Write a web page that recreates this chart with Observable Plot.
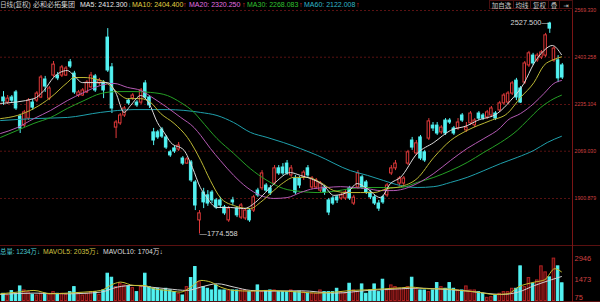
<!DOCTYPE html>
<html><head><meta charset="utf-8">
<script src="https://cdn.jsdelivr.net/npm/d3@7"></script>
<script src="https://cdn.jsdelivr.net/npm/@observablehq/plot@0.6"></script>
<style>
html,body{margin:0;padding:0;background:#000;}
#wrap{position:relative;width:600px;height:302px;background:#000;overflow:hidden;font-family:"Liberation Sans","Noto Sans CJK SC",sans-serif;}
.abs{position:absolute;white-space:nowrap;}
.h{top:0;font-size:7px;line-height:10px;}
.v{top:247px;font-size:6.8px;line-height:10px;}
.btn{position:absolute;top:0;height:9px;border:1px solid #4a1010;box-sizing:border-box;color:#c8c8c8;font-size:6.5px;line-height:8px;text-align:center;font-family:"Noto Sans CJK SC","DejaVu Sans",sans-serif;}
.ln{position:absolute;}
#main,#vol{position:absolute;left:0;}
#main{top:0}
#vol{top:246px}
</style></head>
<body>
<div id="wrap">
  <div id="main"></div>
  <div id="vol"></div>
  <div class="ln" style="left:0;top:245px;width:600px;height:1px;background:#5a1010"></div>
  <div class="ln" style="left:0;top:301px;width:600px;height:1px;background:#5a1010"></div>
  <div class="ln" style="left:572px;top:9px;width:1px;height:293px;background:#7a1515"></div>

  <span class="abs h" style="left:0px;color:#d0d0d0;font-size:6.6px">日线(复权)</span>
  <span class="abs h" style="left:33px;color:#d0d0d0">必和必拓集团</span>
  <span class="abs h" style="left:80px;color:#e8e8e8">MA5: 2412.300</span>
  <span class="abs h" style="left:128px;color:#2ab5b5">↓</span>
  <span class="abs h" style="left:132px;color:#e0d040">MA10: 2404.400</span>
  <span class="abs h" style="left:183px;color:#e03030">↑</span>
  <span class="abs h" style="left:189px;color:#e070e0">MA20: 2320.250</span>
  <span class="abs h" style="left:242px;color:#e03030">↑</span>
  <span class="abs h" style="left:247px;color:#30c030">MA30: 2268.083</span>
  <span class="abs h" style="left:299px;color:#e03030">↑</span>
  <span class="abs h" style="left:304px;color:#30b8c8">MA60: 2122.008</span>
  <span class="abs h" style="left:356px;color:#e03030">↑</span>

  <div class="btn" style="left:489px;width:25px">加自选</div>
  <div class="btn" style="left:513px;width:18px">均线</div>
  <div class="btn" style="left:530px;width:19px">复权</div>
  <div class="btn" style="left:548px;width:12px">叠</div>
  <div class="btn" style="left:559px;width:14px">⇥</div>

  <span class="abs v" style="left:0px;color:#4cc8d0;font-size:6.4px">总量: 1234万↓</span>
  <span class="abs v" style="left:43px;color:#d0c040">MAVOL5: 2035万↓</span>
  <span class="abs v" style="left:103px;color:#dddddd">MAVOL10: 1704万↓</span>
</div>
<script>
// ---- candle data (price) ----
const open = [2260,2242,2260,2278,2192,2160,2185,2242,2249,2260,
2324,2256,2338,2338,2338,2338,2385,2345,2267,2267,
2278,2296,2335,2310,2313,2473,2367,2153,2168,2196,
2249,2257,2242,2242,2310,2260,2136,2136,2146,2118,
2065,2079,2075,2043,2025,2029,1958,1823,1922,1912,
1922,1894,1894,1869,1823,1894,1865,1833,1830,1858,
1858,1929,1937,1947,1937,1954,2008,2011,2025,1983,
1972,1972,1976,2008,1940,1940,1929,1940,1894,1901,
1905,1901,1901,1937,1883,1940,1976,1958,1922,1905,
1883,1905,1912,1990,2008,1954,1954,2025,2107,2061,
2118,2065,2114,2160,2160,2136,2178,2178,2150,2150,
2196,2143,2168,2161,2203,2196,2189,2196,2203,2214,
2239,2242,2274,2320,2292,2313,2374,2409,2392,2402,
2409,2523,2392,2392,2374];
const close = [2246,2256,2249,2221,2150,2207,2249,2224,2274,2331,
2299,2292,2377,2328,2367,2363,2370,2278,2278,2285,
2313,2338,2285,2320,2285,2356,2221,2171,2196,2221,
2239,2267,2232,2285,2260,2232,2107,2118,2121,2082,
2054,2068,2089,2025,2040,1965,1876,1848,1887,1883,
1894,1869,1876,1848,1865,1887,1841,1876,1858,1823,
1905,1912,1990,1929,1919,2008,1990,1990,1990,2008,
1922,1947,1993,1983,1972,1965,1954,1922,1851,1883,
1894,1912,1922,1901,1904,1990,1940,1922,1905,1883,
1865,1887,1947,2008,2025,1972,1972,2065,2082,2097,
2043,2036,2175,2150,2132,2153,2132,2171,2132,2171,
2178,2153,2203,2178,2185,2185,2207,2221,2185,2239,
2267,2274,2310,2260,2242,2381,2417,2381,2409,2420,
2481,2505,2434,2328,2331];
const high = [2281,2267,2267,2285,2200,2214,2256,2253,2281,2338,
2335,2299,2388,2349,2374,2370,2395,2353,2285,2292,
2320,2349,2342,2328,2320,2505,2381,2178,2203,2228,
2256,2274,2249,2292,2320,2267,2150,2143,2153,2125,
2072,2086,2100,2050,2047,2036,1965,1858,1937,1929,
1929,1901,1905,1876,1872,1905,1872,1883,1865,1865,
1912,1937,2000,1954,1947,2018,2018,2025,2036,2018,
1983,1979,2000,2018,1979,1972,1961,1947,1901,1908,
1912,1919,1929,1944,1912,2000,1983,1965,1929,1912,
1894,1912,1954,2018,2036,1979,1979,2072,2118,2107,
2125,2072,2185,2171,2171,2160,2185,2185,2157,2185,
2203,2171,2210,2185,2210,2203,2214,2228,2210,2246,
2274,2281,2317,2328,2299,2388,2424,2417,2417,2427,
2488,2527.5,2441,2409,2381];
const low = [2232,2235,2242,2214,2132,2153,2178,2214,2242,2256,
2278,2249,2331,2320,2331,2335,2363,2271,2260,2264,
2274,2292,2278,2303,2256,2349,2203,2114,2161,2189,
2232,2249,2225,2235,2253,2221,2089,2111,2114,2075,
2047,2061,2068,2018,2022,1958,1858,1774.558,1865,1873,
1883,1862,1865,1841,1816,1876,1833,1826,1823,1816,
1851,1905,1929,1922,1912,1947,1983,1983,1983,1976,
1915,1936,1965,1976,1933,1933,1922,1912,1840,1876,
1883,1894,1894,1894,1876,1933,1933,1915,1897,1876,
1855,1880,1905,1983,2000,1947,1947,2018,2072,2054,
2036,2029,2107,2139,2125,2129,2125,2164,2125,2143,
2171,2136,2161,2153,2178,2178,2182,2189,2178,2207,
2232,2235,2267,2249,2239,2306,2367,2374,2385,2395,
2402,2488,2385,2313,2324];
// volume (万)
const volume = [502,385,689,502,1016,736,619,432,385,502,
502,432,619,502,502,432,619,969,502,385,
502,619,619,432,736,1904,1623,969,1203,1086,
1016,900,619,969,1904,969,852,852,736,852,
736,619,502,385,969,1600,2371,1320,969,852,
736,1086,736,736,736,736,736,736,736,619,
700,1086,619,700,736,736,619,619,619,736,
619,650,600,502,502,502,736,619,619,619,
852,619,502,1203,736,619,1156,502,736,1156,
619,1484,736,1086,969,852,852,969,1623,852,
736,736,619,736,1250,969,852,1250,852,736,
736,1016,736,736,619,502,221,268,385,502,
619,619,852,852,2418,969,1600,1203,1437,2418,
1998,1650,2958,2418,1234];
// moving averages (position in candle index, value)
const ma5X = [-0.7,7.3,9.7,12,15.3,16.9,18.9,21.7,24.9,26.9,28.9,30.5,32.9,34.9,36.9,38.5,40.1,43.3,45.3,47.2,48.4,51.2,54.4,57.6,60.4,62.8,65.2,68.8,71.2,73.6,76.8,79.2,82.4,84.8,87.2,90.4,92.8,95.2,99.2,103.2,107.2,111.2,113.6,118.4,121.6,124.8,127.2,129.6,131.6,133.8];
const ma5Y = [2239,2256,2285,2331,2356,2338,2313,2313,2313,2278,2207,2232,2267,2239,2171,2136,2100,2072,2011,1940,1912,1869,1869,1865,1887,1922,1958,1993,1983,1972,1947,1912,1922,1954,1936,1904,1954,1976,2061,2100,2143,2160,2178,2203,2249,2310,2381,2427,2445,2412.3];
const ma10X = [-0.7,3.3,7.3,11.3,15.3,16.9,19.3,22.5,24.9,27.3,29.7,32.9,35.3,37.7,40.9,44.1,47.3,49.6,52,55.2,59.2,61.6,64.8,67.2,69.6,72.8,76,79.2,82.4,85.6,88.8,92,95.2,99.2,103.2,107.2,111.2,116.8,120.8,124,127.2,129.6,132,133.8];
const ma10Y = [2185,2196,2221,2260,2313,2331,2331,2324,2310,2278,2256,2256,2242,2203,2168,2118,2036,1965,1904,1876,1865,1887,1929,1958,1976,1976,1958,1929,1922,1922,1922,1936,1943,1972,2047,2107,2143,2178,2203,2260,2313,2374,2395,2404.4];
const ma20X = [-0.7,3.3,7.3,11.3,15.3,19.3,23.3,26.5,29.7,32.9,36.1,39.3,42.5,45.7,47.3,49.6,52,55.2,58.4,61.6,64.8,68,71.2,74.4,77.6,80.8,84,87.2,90.4,93.6,95.2,99.2,103.2,107.2,111.2,115.2,119.2,120.8,124,127.2,129.6,132,133.8];
const ma20Y = [2132,2153,2185,2214,2249,2278,2303,2310,2296,2285,2256,2224,2189,2153,2125,2079,2036,1983,1940,1912,1901,1904,1922,1936,1940,1943,1940,1936,1929,1929,1932,1954,1990,2036,2079,2114,2153,2178,2203,2239,2274,2310,2320.25];
const ma30X = [-0.7,3.3,7.3,11.3,15.3,19.3,23.3,27.3,31.3,35.3,39.3,42.5,45.7,47.3,51.2,55.2,59.2,63.2,67.2,71.2,75.2,79.2,83.2,87.2,91.2,95.2,99.2,103.2,107.2,111.2,115.2,119.2,123.2,125.6,128.8,132,133.8];
const ma30Y = [2118,2143,2168,2189,2221,2249,2274,2281,2281,2278,2267,2242,2207,2180,2114,2061,2007,1965,1936,1926,1922,1926,1936,1940,1940,1940,1958,1976,2000,2029,2065,2100,2143,2178,2224,2256,2268.08];
const ma60X = [-0.7,7.3,15.3,23.3,31.3,39.3,47.2,51.2,55.2,59.2,63.2,67.1,75.3,83.2,87.3,91.1,95.2,99.2,103.2,107.2,111.2,115.2,119.2,123.2,127.2,130.4,133.8];
const ma60Y = [2178,2185,2189,2207,2217,2217,2207,2196,2171,2136,2118,2100,2054,2000,1983,1965,1947,1940,1943,1958,1976,2000,2025,2047,2072,2100,2122.008];
const mavol5X = [-0.7,3.3,7.3,11.3,15.3,19.3,23.3,26.5,28.1,31.3,33.7,36.1,39.3,42.5,44.9,47.3,49.7,52.1,55.3,59.3,63.3,67.3,71.3,75.4,79.4,83.4,87.4,91.4,95.4,97.8,101.8,105.8,109.8,113.8,117.8,121,123.4,127.4,129.8,132.2,133.8];
const mavol5Y = [502,619,736,502,550,619,736,1203,1320,1086,1086,852,736,619,969,1437,1320,969,736,689,736,689,619,550,619,736,782,852,922,969,852,852,736,619,455,502,969,1320,1484,2254,2035];
const mavol10X = [-0.7,7.3,15.3,23.3,27.3,31.3,35.3,39.3,44.1,47.3,51.3,55.3,59.3,63.3,71.4,79.4,87.4,95.4,99.4,103.4,107.4,111.4,115.4,119.4,123.4,127.4,131.4,133.8];
const mavol10Y = [455,550,502,619,969,1086,969,852,736,969,1203,969,736,689,712,550,736,852,899,852,782,689,550,455,619,1086,1484,1704];
// axis tick labels
const priceTicks = [2569.330, 2403.258, 2235.104, 2069.030, 1900.879];
const volTicks = [2946, 1473];
const volLowTick = [75];
// extremes annotated
const maxIdx = 131, maxVal = 2527.5, minIdx = 47, minVal = 1774.558;

const RED = "#e23a3a", CYAN = "#52f2f2", AXIS = "#d04040";
const candles = open.map((o, i) => ({i, o, h: high[i], l: low[i], c: close[i], up: close[i] >= o}));
const ups = candles.filter(d => d.up), downs = candles.filter(d => !d.up);
const pts = (X, Y) => X.map((x, k) => ({x, y: Y[k]}));
const xDom = [-0.72, 136.45];
const bw = 0.3;

const main = Plot.plot({
  width: 600, height: 246,
  marginTop: 0, marginBottom: 0, marginLeft: 0, marginRight: 28,
  x: {domain: xDom, axis: null},
  y: {domain: [1730.2, 2604.9], axis: null},
  style: {background: "transparent", overflow: "visible"},
  marks: [
    Plot.ruleY(priceTicks, {stroke: "#5a1212", strokeDasharray: "2,2"}),
    Plot.ruleX(ups, {x: "i", y1: "l", y2: "h", stroke: RED}),
    Plot.ruleX(downs, {x: "i", y1: "l", y2: "h", stroke: CYAN}),
    Plot.rect(ups, {x1: d => d.i - bw, x2: d => d.i + bw, y1: "o", y2: "c", fill: "#000", stroke: RED}),
    Plot.rect(downs, {x1: d => d.i - bw, x2: d => d.i + bw, y1: "c", y2: "o", fill: CYAN, stroke: CYAN}),
    Plot.line(pts(ma60X, ma60Y), {x: "x", y: "y", stroke: "#1fa0ac", strokeWidth: 1, curve: "monotone-x"}),
    Plot.line(pts(ma30X, ma30Y), {x: "x", y: "y", stroke: "#25a025", strokeWidth: 1, curve: "monotone-x"}),
    Plot.line(pts(ma20X, ma20Y), {x: "x", y: "y", stroke: "#b45ab4", strokeWidth: 1, curve: "monotone-x"}),
    Plot.line(pts(ma10X, ma10Y), {x: "x", y: "y", stroke: "#bcb834", strokeWidth: 1, curve: "monotone-x"}),
    Plot.line(pts(ma5X, ma5Y), {x: "x", y: "y", stroke: "#dcdcdc", strokeWidth: 1, curve: "monotone-x"}),
    Plot.text([{x: maxIdx, y: maxVal}], {x: "x", y: "y", text: d => d.y.toFixed(3) + "—", textAnchor: "end", dx: -1, fill: "#d8d8d8", fontSize: 7.4, fontFamily: "Liberation Sans"}),
    Plot.text([{x: minIdx, y: minVal}], {x: "x", y: "y", text: d => "—" + d.y.toFixed(3), textAnchor: "start", dx: 0, fill: "#d8d8d8", fontSize: 7.4, fontFamily: "Liberation Sans"}),
    Plot.text(priceTicks, {y: d => d, frameAnchor: "right", textAnchor: "start", dx: 2, text: d => d.toFixed(3), fill: AXIS, fontSize: 5.2, fontFamily: "Liberation Sans"})
  ]
});
document.getElementById("main").appendChild(main);

const vols = volume.map((v, i) => ({i, v, up: candles[i].up}));
const vol = Plot.plot({
  width: 600, height: 56,
  marginTop: 0, marginBottom: 0, marginLeft: 0, marginRight: 28,
  x: {domain: xDom, axis: null},
  y: {domain: [-105, 3804], axis: null},
  style: {background: "transparent", overflow: "visible"},
  marks: [
    Plot.rect(vols.filter(d => d.up), {x1: d => d.i - bw, x2: d => d.i + bw, y1: 0, y2: "v", fill: "#4a0a0a", stroke: "#b02222"}),
    Plot.rect(vols.filter(d => !d.up), {x1: d => d.i - bw, x2: d => d.i + bw, y1: 0, y2: "v", fill: CYAN, stroke: CYAN}),
    Plot.line(pts(mavol10X, mavol10Y), {x: "x", y: "y", stroke: "#d0d0d0", strokeWidth: 1, curve: "monotone-x"}),
    Plot.line(pts(mavol5X, mavol5Y), {x: "x", y: "y", stroke: "#c8c030", strokeWidth: 1, curve: "monotone-x"}),
    Plot.text(volTicks, {y: d => d, frameAnchor: "right", textAnchor: "start", dx: 2, text: d => String(d), fill: AXIS, fontSize: 7.5, fontFamily: "Liberation Sans"}),
    Plot.text(volLowTick, {y: d => d, frameAnchor: "right", textAnchor: "start", dx: 2, dy: -2, text: d => String(d), fill: AXIS, fontSize: 7.5, fontFamily: "Liberation Sans"})
  ]
});
document.getElementById("vol").appendChild(vol);
</script>
</body></html>
